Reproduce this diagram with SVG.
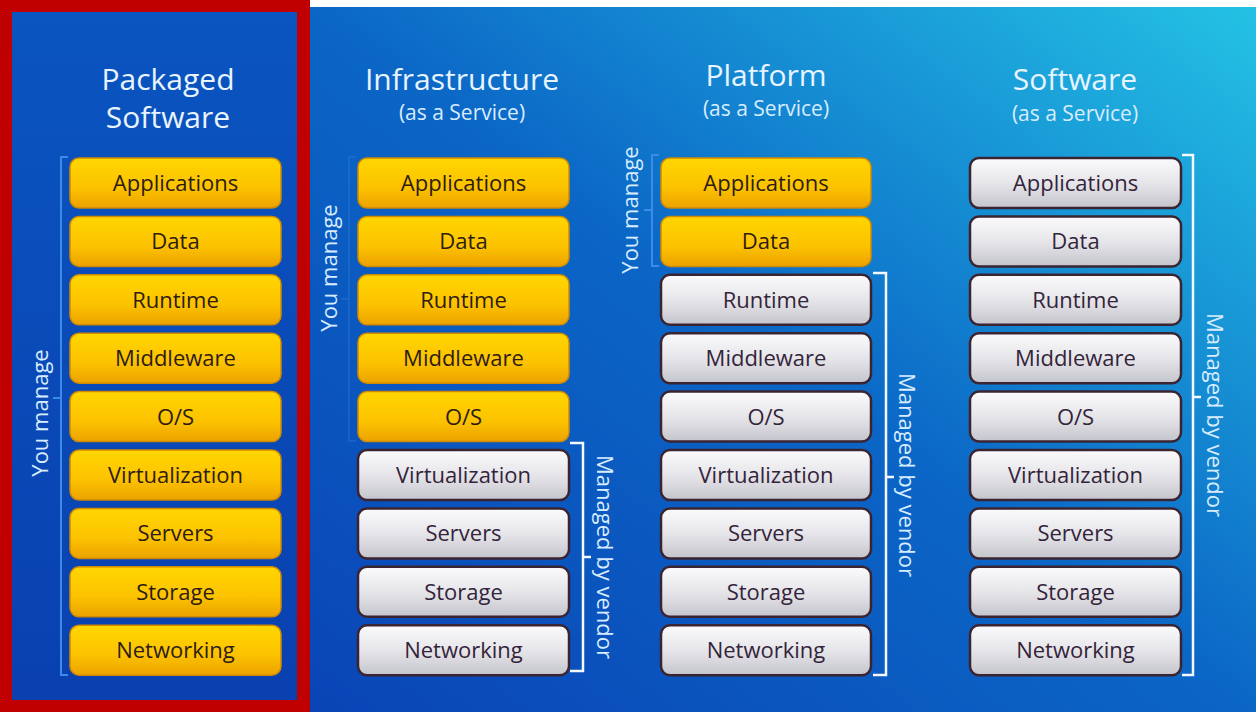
<svg xmlns="http://www.w3.org/2000/svg" width="1260" height="712" viewBox="0 0 1260 712">
<defs>
<linearGradient id="bg" x1="0" y1="1" x2="1" y2="0">
<stop offset="0" stop-color="#0a44b6"/>
<stop offset="0.5" stop-color="#0b66c6"/>
<stop offset="1" stop-color="#24c2e4"/>
</linearGradient>
<linearGradient id="bgL" x1="0" y1="0" x2="0" y2="1">
<stop offset="0" stop-color="#0a55c0"/>
<stop offset="1" stop-color="#0a40b0"/>
</linearGradient>
<linearGradient id="yel" x1="0" y1="0" x2="0" y2="1">
<stop offset="0" stop-color="#ffd600"/>
<stop offset="0.6" stop-color="#fcc200"/>
<stop offset="1" stop-color="#eca200"/>
</linearGradient>
<linearGradient id="gry" x1="0" y1="0" x2="0" y2="1">
<stop offset="0" stop-color="#fbfbfd"/>
<stop offset="0.5" stop-color="#e6e6ea"/>
<stop offset="1" stop-color="#c4c4cc"/>
</linearGradient>
</defs>
<style>
.y{fill:url(#yel);stroke:#d08a00;stroke-width:1.5}
.g{fill:url(#gry);stroke:#3a2432;stroke-width:2.5}
.t{font-family:"Open Sans","Noto Sans",sans-serif;font-size:22px;font-weight:500;fill:#2e1c14;text-anchor:middle}
.g+.t{fill:#34243a}
.h{font-family:"Open Sans","Noto Sans",sans-serif;font-size:30px;fill:#e8f4ff;text-anchor:middle}
.s{font-family:"Open Sans","Noto Sans",sans-serif;font-size:21px;fill:#d8ecff;text-anchor:middle}
.side{font-family:"Open Sans","Noto Sans",sans-serif;font-size:22px;fill:#d8ecff;text-anchor:middle}
.bb{fill:none;stroke:#3a8ce8;stroke-width:2}
.wb{fill:none;stroke:#f4f8ff;stroke-width:2.5}
</style>
<rect x="0" y="0" width="1260" height="712" fill="#ffffff"/>
<rect x="309" y="7" width="947" height="705" fill="url(#bg)"/>
<rect x="0" y="0" width="310" height="712" fill="#c00000"/>
<rect x="12" y="12" width="285" height="688" fill="url(#bgL)"/>

<g id="headers">
<text class="h" x="168" y="90" font-size="31">Packaged</text>
<text class="h" x="168" y="128" font-size="31">Software</text>
<text class="h" x="462" y="90">Infrastructure</text>
<text class="s" x="462" y="120">(as a Service)</text>
<text class="h" x="766" y="86">Platform</text>
<text class="s" x="766" y="116">(as a Service)</text>
<text class="h" x="1075" y="90">Software</text>
<text class="s" x="1075" y="121">(as a Service)</text>
</g>

<g id="col-packaged">
<rect class="y" x="70" y="158" width="211" height="50" rx="9"/><text class="t" x="175.5" y="191">Applications</text>
<rect class="y" x="70" y="216.4" width="211" height="50" rx="9"/><text class="t" x="175.5" y="249.4">Data</text>
<rect class="y" x="70" y="274.8" width="211" height="50" rx="9"/><text class="t" x="175.5" y="307.8">Runtime</text>
<rect class="y" x="70" y="333.2" width="211" height="50" rx="9"/><text class="t" x="175.5" y="366.2">Middleware</text>
<rect class="y" x="70" y="391.6" width="211" height="50" rx="9"/><text class="t" x="175.5" y="424.6">O/S</text>
<rect class="y" x="70" y="450" width="211" height="50" rx="9"/><text class="t" x="175.5" y="483">Virtualization</text>
<rect class="y" x="70" y="508.4" width="211" height="50" rx="9"/><text class="t" x="175.5" y="541.4">Servers</text>
<rect class="y" x="70" y="566.8" width="211" height="50" rx="9"/><text class="t" x="175.5" y="599.8">Storage</text>
<rect class="y" x="70" y="625.2" width="211" height="50" rx="9"/><text class="t" x="175.5" y="658.2">Networking</text>
</g>

<g id="col-iaas">
<rect class="y" x="358" y="158" width="211" height="50" rx="9"/><text class="t" x="463.5" y="191">Applications</text>
<rect class="y" x="358" y="216.4" width="211" height="50" rx="9"/><text class="t" x="463.5" y="249.4">Data</text>
<rect class="y" x="358" y="274.8" width="211" height="50" rx="9"/><text class="t" x="463.5" y="307.8">Runtime</text>
<rect class="y" x="358" y="333.2" width="211" height="50" rx="9"/><text class="t" x="463.5" y="366.2">Middleware</text>
<rect class="y" x="358" y="391.6" width="211" height="50" rx="9"/><text class="t" x="463.5" y="424.6">O/S</text>
<rect class="g" x="358" y="450" width="211" height="50" rx="9"/><text class="t" x="463.5" y="483">Virtualization</text>
<rect class="g" x="358" y="508.4" width="211" height="50" rx="9"/><text class="t" x="463.5" y="541.4">Servers</text>
<rect class="g" x="358" y="566.8" width="211" height="50" rx="9"/><text class="t" x="463.5" y="599.8">Storage</text>
<rect class="g" x="358" y="625.2" width="211" height="50" rx="9"/><text class="t" x="463.5" y="658.2">Networking</text>
</g>

<g id="col-paas">
<rect class="y" x="661" y="158" width="210" height="50" rx="9"/><text class="t" x="766" y="191">Applications</text>
<rect class="y" x="661" y="216.4" width="210" height="50" rx="9"/><text class="t" x="766" y="249.4">Data</text>
<rect class="g" x="661" y="274.8" width="210" height="50" rx="9"/><text class="t" x="766" y="307.8">Runtime</text>
<rect class="g" x="661" y="333.2" width="210" height="50" rx="9"/><text class="t" x="766" y="366.2">Middleware</text>
<rect class="g" x="661" y="391.6" width="210" height="50" rx="9"/><text class="t" x="766" y="424.6">O/S</text>
<rect class="g" x="661" y="450" width="210" height="50" rx="9"/><text class="t" x="766" y="483">Virtualization</text>
<rect class="g" x="661" y="508.4" width="210" height="50" rx="9"/><text class="t" x="766" y="541.4">Servers</text>
<rect class="g" x="661" y="566.8" width="210" height="50" rx="9"/><text class="t" x="766" y="599.8">Storage</text>
<rect class="g" x="661" y="625.2" width="210" height="50" rx="9"/><text class="t" x="766" y="658.2">Networking</text>
</g>

<g id="col-saas">
<rect class="g" x="970" y="158" width="211" height="50" rx="9"/><text class="t" x="1075.5" y="191">Applications</text>
<rect class="g" x="970" y="216.4" width="211" height="50" rx="9"/><text class="t" x="1075.5" y="249.4">Data</text>
<rect class="g" x="970" y="274.8" width="211" height="50" rx="9"/><text class="t" x="1075.5" y="307.8">Runtime</text>
<rect class="g" x="970" y="333.2" width="211" height="50" rx="9"/><text class="t" x="1075.5" y="366.2">Middleware</text>
<rect class="g" x="970" y="391.6" width="211" height="50" rx="9"/><text class="t" x="1075.5" y="424.6">O/S</text>
<rect class="g" x="970" y="450" width="211" height="50" rx="9"/><text class="t" x="1075.5" y="483">Virtualization</text>
<rect class="g" x="970" y="508.4" width="211" height="50" rx="9"/><text class="t" x="1075.5" y="541.4">Servers</text>
<rect class="g" x="970" y="566.8" width="211" height="50" rx="9"/><text class="t" x="1075.5" y="599.8">Storage</text>
<rect class="g" x="970" y="625.2" width="211" height="50" rx="9"/><text class="t" x="1075.5" y="658.2">Networking</text>
</g>

<g id="brackets">
<path class="bb" d="M68 157 H61 V675 H68 M61 398 H53"/>
<path class="bb" d="M356 157 H349 V441 H356 M349 299 H341" opacity="0.25"/>
<path class="bb" d="M659 155 H652 V266 H659 M652 210 H644"/>
<path class="wb" d="M570 443 H583 V671 H570 M583 557 H591"/>
<path class="wb" d="M873 273 H886 V675 H873 M886 477 H894"/>
<path class="wb" d="M1182 155 H1193 V675 H1182 M1193 397 H1201"/>
</g>

<g id="side-labels">
<text class="side" transform="translate(48 413) rotate(-90)">You manage</text>
<text class="side" transform="translate(337 268) rotate(-90)">You manage</text>
<text class="side" transform="translate(638 210) rotate(-90)">You manage</text>
<text class="side" transform="translate(597 557) rotate(90)">Managed by vendor</text>
<text class="side" transform="translate(899 475) rotate(90)">Managed by vendor</text>
<text class="side" transform="translate(1207 415) rotate(90)">Managed by vendor</text>
</g>
</svg>
